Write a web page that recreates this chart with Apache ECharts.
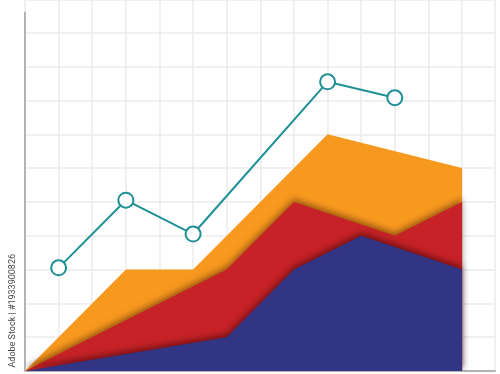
<!DOCTYPE html>
<html>
<head>
<meta charset="utf-8">
<script src="https://cdn.jsdelivr.net/npm/echarts@6/dist/echarts.min.js"></script>
<style>html,body{margin:0;padding:0;background:#fff}#c{width:500px;height:374px}</style>
</head>
<body>
<div id="c"></div>
<script>
// Data (x index, value)
const orangeArea = [[0,0],[3,3],[5,3],[9,7],[13,6]];
const redArea    = [[0,0],[6,3],[8,5],[11,4],[13,5]];
const blueArea   = [[0,0],[6,1],[8,3],[10,4],[13,3]];
const lineData   = [[1,3.05],[3,5.05],[5,4.05],[9,8.55],[11,8.08]];
const axisTop = 10.62;
const sideText = 'Adobe Stock | #1933900826';

const chart = echarts.init(document.getElementById('c'));
chart.setOption({
  animation: false,
  backgroundColor: '#ffffff',
  grid: {left: 25, right: 5, top: 0, bottom: 3},
  xAxis: {
    type: 'value', min: 0, max: 13.98, interval: 1,
    axisLine: {show: true, onZero: false, lineStyle: {color: '#b3b3b3', width: 2}},
    axisTick: {show: false}, axisLabel: {show: false},
    splitLine: {show: true, lineStyle: {color: '#ebebeb', width: 1.5}}
  },
  yAxis: {
    type: 'value', min: 0, max: 10.97, interval: 1,
    axisLine: {show: false},
    axisTick: {show: false}, axisLabel: {show: false},
    splitLine: {show: true, lineStyle: {color: '#ebebeb', width: 1.5}}
  },
  graphic: [{
    type: 'text', left: 8, top: 254, rotation: Math.PI / 2,
    style: {text: sideText, fill: '#4a4a4a', font: '9px Roboto, sans-serif'}
  }],
  series: [
    {
      type: 'line', data: orangeArea, showSymbol: false, silent: true,
      lineStyle: {width: 0}, z: 2,
      areaStyle: {color: '#F8991F', opacity: 1},
      markLine: {
        silent: true, symbol: 'none', label: {show: false},
        lineStyle: {color: '#b3b3b3', width: 2, type: 'solid'},
        data: [[{coord: [0, 0]}, {coord: [0, axisTop]}]]
      }
    },
    {
      type: 'line', data: redArea, showSymbol: false, silent: true,
      lineStyle: {width: 0}, z: 3,
      areaStyle: {color: '#C62227', opacity: 1, shadowBlur: 6, shadowColor: 'rgba(60,20,0,0.5)', shadowOffsetY: -3}
    },
    {
      type: 'line', data: blueArea, showSymbol: false, silent: true,
      lineStyle: {width: 0}, z: 4,
      areaStyle: {color: '#313584', opacity: 1, shadowBlur: 6, shadowColor: 'rgba(40,0,0,0.5)', shadowOffsetY: -3}
    },
    {
      type: 'line', data: lineData, z: 5,
      symbol: 'circle', symbolSize: 15, showSymbol: true,
      lineStyle: {color: '#1E9096', width: 2},
      itemStyle: {color: '#ffffff', borderColor: '#1E9096', borderWidth: 2}
    }
  ]
});
</script>
</body>
</html>
